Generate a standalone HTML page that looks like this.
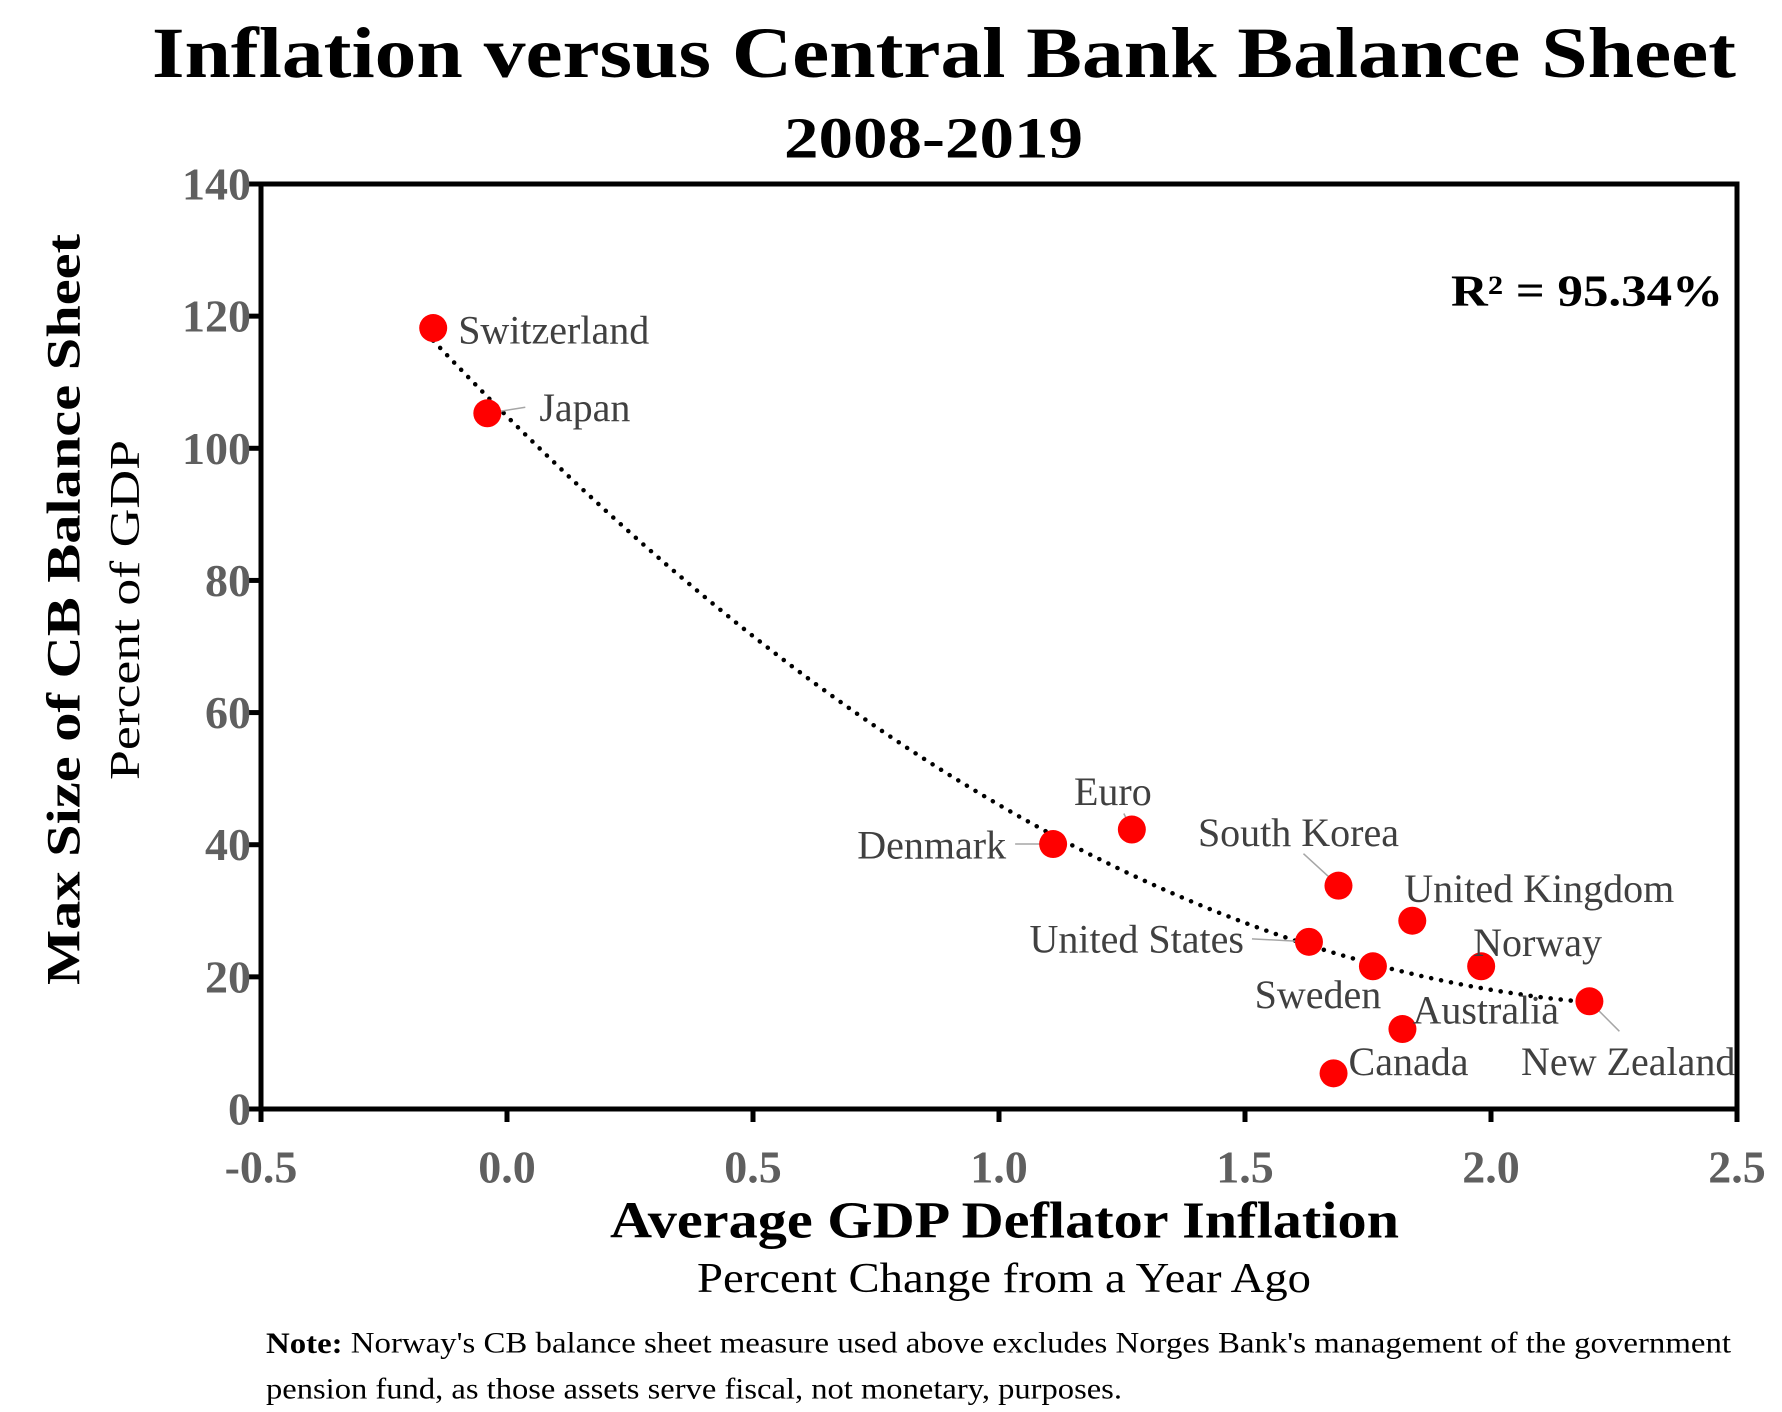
<!DOCTYPE html>
<html><head><meta charset="utf-8"><style>
body{margin:0;background:#fff;}
svg{display:block;font-family:"Liberation Serif",serif;}
</style></head><body>
<svg id="chart" width="1782" height="1412" viewBox="0 0 1782 1412">
<text x="152" y="53" textLength="1584" lengthAdjust="spacingAndGlyphs" dominant-baseline="central" font-size="72" font-weight="bold">Inflation versus Central Bank Balance Sheet</text>
<text x="784" y="138" textLength="299" lengthAdjust="spacingAndGlyphs" dominant-baseline="central" font-size="58" font-weight="bold">2008-2019</text>
<g id="axes"></g>
<g id="trend"></g>
<g id="points"></g>
<text x="1451" y="291" textLength="272" lengthAdjust="spacingAndGlyphs" dominant-baseline="central" font-size="44" font-weight="bold">R² = 95.34%</text>
<text transform="translate(64,610) rotate(-90)" x="-375" textLength="751" lengthAdjust="spacingAndGlyphs" dominant-baseline="central" font-size="48" font-weight="bold">Max Size of CB Balance Sheet</text>
<text transform="translate(126,610) rotate(-90)" x="-170" textLength="340" lengthAdjust="spacingAndGlyphs" dominant-baseline="central" font-size="42">Percent of GDP</text>
<text x="610" y="1221" textLength="789" lengthAdjust="spacingAndGlyphs" dominant-baseline="central" font-size="52" font-weight="bold">Average GDP Deflator Inflation</text>
<text x="697" y="1279" textLength="614" lengthAdjust="spacingAndGlyphs" dominant-baseline="central" font-size="42">Percent Change from a Year Ago</text>
<text x="266" y="1343" textLength="1465" lengthAdjust="spacingAndGlyphs" dominant-baseline="central" font-size="30"><tspan font-weight="bold">Note:</tspan> Norway's CB balance sheet measure used above excludes Norges Bank's management of the government</text>
<text x="266" y="1389" textLength="856" lengthAdjust="spacingAndGlyphs" dominant-baseline="central" font-size="30">pension fund, as those assets serve fiscal, not monetary, purposes.</text>
</svg>
<script>
const countries=["Switzerland","Japan","Denmark","Euro","South Korea","United Kingdom","United States","Sweden","Norway","New Zealand","Australia","Canada"];
const inflation=[-0.15,-0.04,1.11,1.27,1.69,1.84,1.63,1.76,1.98,2.2,1.82,1.68];
const balanceSheet=[118.2,105.3,40.1,42.3,33.8,28.5,25.3,21.6,21.6,16.3,12.1,5.4];
const xTicks=[-0.5,0.0,0.5,1.0,1.5,2.0,2.5];
const yTicks=[0,20,40,60,80,100,120,140];
const NS="http://www.w3.org/2000/svg";
const X0=261,X1=1737,Y0=1109,Y1=184;
const xs=v=>X0+(v+0.5)/3*(X1-X0);
const ys=v=>Y0-v/140*(Y0-Y1);
function mk(tag,attrs,parent,text){const e=document.createElementNS(NS,tag);for(const k in attrs)e.setAttribute(k,attrs[k]);if(text!==undefined)e.textContent=text;parent.appendChild(e);return e;}
const axes=document.getElementById('axes');
const frame=mk('rect',{x:X0,y:Y1,width:X1-X0,height:Y0-Y1,fill:'none',stroke:'#000','stroke-width':5},axes);


yTicks.forEach(t=>{
 const l=mk('line',{x1:X0-13,x2:X0,y1:ys(t),y2:ys(t),stroke:'#000','stroke-width':5},axes);
 
 
 const tx=mk('text',{x:X0-10,y:ys(t),'text-anchor':'end','dominant-baseline':'central','font-size':46,'font-weight':'bold',fill:'#5f5f5f'},axes,String(t));
 
 
});
xTicks.forEach(t=>{
 const l=mk('line',{x1:xs(t),x2:xs(t),y1:Y0,y2:Y0+13,stroke:'#000','stroke-width':5},axes);
 
 
 const tx=mk('text',{x:xs(t),y:Y0+58,'text-anchor':'middle','dominant-baseline':'central','font-size':46,'font-weight':'bold',fill:'#5f5f5f'},axes,t.toFixed(1));
 
 
});
// quadratic least-squares trend
function solve3(M,v){const A=M.map((r,i)=>[...r,v[i]]);for(let i=0;i<3;i++){let p=i;for(let k=i+1;k<3;k++)if(Math.abs(A[k][i])>Math.abs(A[p][i]))p=k;[A[i],A[p]]=[A[p],A[i]];for(let k=0;k<3;k++)if(k!==i){const f=A[k][i]/A[i][i];for(let j=i;j<4;j++)A[k][j]-=f*A[i][j];}}return A.map((r,i)=>r[3]/r[i]);}
const S=[0,0,0,0,0],T=[0,0,0];
inflation.forEach((x,i)=>{for(let k=0;k<5;k++)S[k]+=Math.pow(x,k);for(let k=0;k<3;k++)T[k]+=balanceSheet[i]*Math.pow(x,k);});
const cf=solve3([[S[0],S[1],S[2]],[S[1],S[2],S[3]],[S[2],S[3],S[4]]],T);
const xmin=Math.min(...inflation),xmax=Math.max(...inflation);
let d='';
for(let k=0;k<=100;k++){const x=xmin+(xmax-xmin)*k/100;d+=(k?'L':'M')+xs(x).toFixed(1)+','+ys(cf[0]+cf[1]*x+cf[2]*x*x).toFixed(1);}
const tr=mk('path',{d:d,fill:'none',stroke:'#000','stroke-width':4.5,'stroke-dasharray':'0.1 10','stroke-linecap':'round'},document.getElementById('trend'));


// label offsets [dx,dy,anchor,leaderX,leaderY]
const lab={"Switzerland":[25,2,'start'],"Japan":[52,-6,'start',38,-6],"Denmark":[-47,1,'end',-38,0],"Euro":[-19,-38,'middle',-8,-16],"South Korea":[-40,-53,'middle',-35,-32],"United Kingdom":[-8,-32,'start'],"United States":[-65,-3,'end',-57,-3],"Sweden":[-55,28,'middle'],"Norway":[-8,-24,'start'],"New Zealand":[146,60,'end',30,30],"Australia":[10,-19,'start'],"Canada":[15,-12,'start']};
const pts=document.getElementById('points');
countries.forEach((c,i)=>{
 const cx=xs(inflation[i]),cy=ys(balanceSheet[i]);
 const o=lab[c];
 if(o[3]!==undefined){const ln=mk('line',{x1:cx,y1:cy,x2:cx+o[3],y2:cy+o[4],stroke:'#a6a6a6','stroke-width':1.5},pts);
  
  }
 const dot=mk('circle',{cx:cx,cy:cy,r:14,fill:'#ff0000'},pts);
 
 
 const t=mk('text',{x:cx+o[0],y:cy+o[1],'text-anchor':o[2],'dominant-baseline':'central','font-size':40,fill:'#404040'},pts,c);
 
 
});
</script>
</body></html>
